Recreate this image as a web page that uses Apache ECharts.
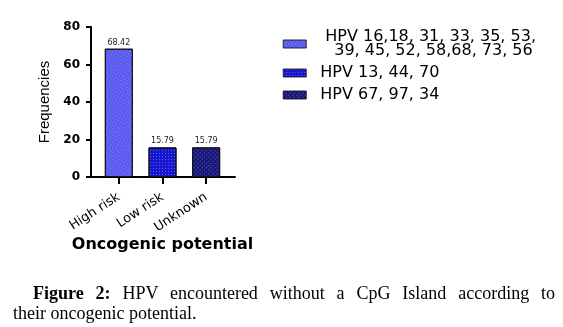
<!DOCTYPE html>
<html>
<head>
<meta charset="utf-8">
<script src="https://cdn.jsdelivr.net/npm/echarts@6/dist/echarts.min.js"></script>
<style>
  html, body { margin:0; padding:0; background:#fff; }
  #wrap { position:relative; width:563px; height:327px; overflow:hidden; }
  #chart { position:absolute; left:0; top:0; width:563px; height:327px; }
  .cap { position:absolute; left:13px; width:542px; font-family:"Liberation Serif","Times New Roman",serif; font-size:18px; line-height:20px; color:#000; white-space:nowrap; }
  #cap1 { top:283px; left:33px; width:522px; text-align:justify; text-align-last:justify; white-space:normal; }
  #cap2 { top:303px; }
</style>
</head>
<body>
<div id="wrap">
  <div id="chart"></div>
  <div class="cap" id="cap1"><b>Figure 2:</b> HPV encountered without a CpG Island according to</div>
  <div class="cap" id="cap2">their oncogenic potential.</div>
</div>
<script>
const categories = ['High risk', 'Low risk', 'Unknown'];
const values = [68.42, 15.79, 15.79];
const seriesNames = ['HPV 16,18, 31, 33, 35, 53, 39, 45, 52, 58,68, 73, 56', 'HPV 13, 44, 70', 'HPV 67, 97, 34'];
const legendLine1 = 'HPV 16,18, 31, 33, 35, 53,';
const legendLine2 = '39, 45, 52, 58,68, 73, 56';
const barColors = ['#5a5af0', '#1616d2', '#18187c'];
const yMin = 0, yMax = 80, yInterval = 20;
const xTitle = 'Oncogenic potential';
const yTitle = 'Frequencies';

const chart = echarts.init(document.getElementById('chart'));

const series = seriesNames.map((name, i) => ({
  name: name,
  type: 'bar',
  stack: 'all',
  xAxisIndex: 0,
  yAxisIndex: 0,
  barWidth: 28,
  data: categories.map((c, j) => (j === i ? values[j] : '-')),
  itemStyle: {
    color: barColors[i],
    borderColor: '#111',
    borderWidth: 1,
    decal: {
      symbol: 'rect',
      symbolSize: 1,
      dashArrayX: [1, 2],
      dashArrayY: [1, 2],
      color: 'rgba(255,255,255,0.3)'
    }
  },
  label: {
    show: true,
    position: 'top',
    distance: 2,
    fontFamily: 'DejaVu Sans',
    fontSize: 8,
    color: '#222',
    formatter: p => p.value.toFixed(2)
  }
}));

chart.setOption({
  animation: false,
  aria: { enabled: true, decal: { show: true } },
  grid: [
    { left: 97, width: 131, top: 27, bottom: 150 },
    { left: 91, width: 144, top: 27, bottom: 150 }
  ],
  xAxis: [
    {
      type: 'category',
      gridIndex: 0,
      data: categories,
      axisLine: { show: false },
      axisTick: { show: true, alignWithLabel: true, length: 7, lineStyle: { color: '#000', width: 2 } },
      axisLabel: { rotate: 33, margin: 19, fontFamily: 'DejaVu Sans', fontSize: 13, color: '#000' },
      name: xTitle,
      nameLocation: 'middle',
      nameGap: 60,
      nameTextStyle: { fontFamily: 'DejaVu Sans', fontWeight: 'bold', fontSize: 16, color: '#000' }
    },
    {
      type: 'value',
      gridIndex: 1,
      min: 0, max: 1,
      axisLine: { show: true, onZero: false, lineStyle: { color: '#000', width: 2 } },
      axisTick: { show: false },
      axisLabel: { show: false },
      splitLine: { show: false }
    }
  ],
  yAxis: [
    {
      type: 'value',
      gridIndex: 0,
      min: yMin, max: yMax, interval: yInterval,
      offset: 6,
      axisLine: { show: true, lineStyle: { color: '#000', width: 2 } },
      axisTick: { show: true, length: 5, lineStyle: { color: '#000', width: 2 } },
      axisLabel: { margin: 11, fontFamily: 'DejaVu Sans', fontWeight: 'bold', fontSize: 12, color: '#000' },
      splitLine: { show: false },
      name: yTitle,
      nameLocation: 'middle',
      nameGap: 39,
      nameRotate: 90,
      nameTextStyle: { fontFamily: 'Liberation Sans', fontSize: 15, color: '#000' }
    },
    { type: 'value', gridIndex: 1, show: false, min: 0, max: 1 }
  ],
  legend: {
    orient: 'vertical',
    left: 283,
    top: 29,
    padding: 0,
    itemWidth: 23,
    itemHeight: 8,
    itemGap: 6,
    selectedMode: false,
    icon: 'rect',
    data: seriesNames,
    itemStyle: { borderWidth: 0.5 },
    textStyle: {
      fontFamily: 'DejaVu Sans', fontSize: 16, color: '#000', lineHeight: 14,
      rich: {
        a: { fontFamily: 'DejaVu Sans', fontSize: 16, lineHeight: 14, padding: [0, 0, 0, 14] },
        b: { fontFamily: 'DejaVu Sans', fontSize: 16, lineHeight: 14, padding: [0, 0, 0, 23] },
        c: { fontFamily: 'DejaVu Sans', fontSize: 16, lineHeight: 14, padding: [0, 0, 0, 9] }
      }
    },
    formatter: name => name === seriesNames[0]
      ? '{a|' + legendLine1 + '}\n{b|' + legendLine2 + '}'
      : '{c|' + name + '}'
  },
  series: series
});
</script>
</body>
</html>
